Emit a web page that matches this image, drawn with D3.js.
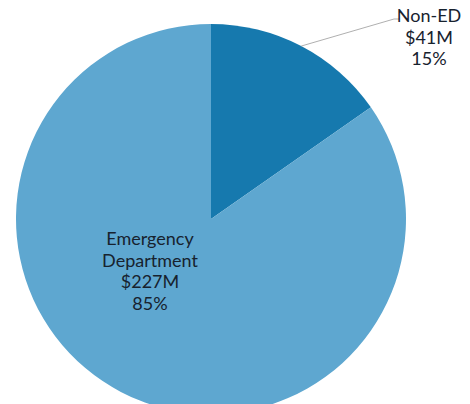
<!DOCTYPE html>
<html>
<head>
<meta charset="utf-8">
<script src="https://cdn.jsdelivr.net/npm/d3@7"></script>
<style>
  body { margin: 0; background: #fff; }
  text { font-family: Lato, "Open Sans", sans-serif; fill: #17222e; }
</style>
</head>
<body>
<svg id="SVG_CONTAINER" width="470" height="404"></svg>
<script>
// slices, in drawing order (clockwise from 12 o'clock)
const names   = ["Non-ED", "Emergency Department"];
const amounts = [41, 227];          // $M
const shares  = [15, 85];           // % as printed
const colours = ["#1679ae", "#5ea7d0"];

const width = 470, height = 404;
const cx = 211, cy = 219, radius = 195;

let svg = d3.select("#SVG_CONTAINER");

let data = names.map((n, i) => ({name: n, amount: amounts[i], share: shares[i], colour: colours[i]}));

let pie = d3.pie().sort(null).value(d => d.amount);
let arc = d3.arc().innerRadius(0).outerRadius(radius);
let arcs = pie(data);

let chart = svg.append("g").attr("transform", "translate(" + cx + "," + cy + ")");

chart.selectAll("path")
    .data(arcs)
    .enter()
    .append("path")
    .attr("d", arc)
    .style("fill", d => d.data.colour);

//label lines helper
function writeLabel(lines, x, y) {
    let t = svg.append("text")
        .attr("text-anchor", "middle")
        .style("font-size", "18px");
    lines.forEach((s, i) => {
        t.append("tspan").attr("x", x).attr("y", y + i * 21.5).text(s);
    });
}

//Non-ED: outside with leader line from the slice's middle
let small = arcs[0];
let mid = (small.startAngle + small.endAngle) / 2;
let edgeX = cx + radius * Math.sin(mid),
    edgeY = cy - radius * Math.cos(mid);
svg.append("polyline")
    .attr("points", [[edgeX, edgeY], [394, 19], [399, 19]].map(p => p.join(",")).join(" "))
    .style("fill", "none")
    .style("stroke", "#9a9a9a")
    .style("stroke-width", 0.8);
writeLabel([names[0], "$" + amounts[0] + "M", shares[0] + "%"], 429, 22);

//Emergency Department: inside slice
writeLabel(["Emergency", "Department", "$" + amounts[1] + "M", shares[1] + "%"], 150, 245);
</script>
</body>
</html>
